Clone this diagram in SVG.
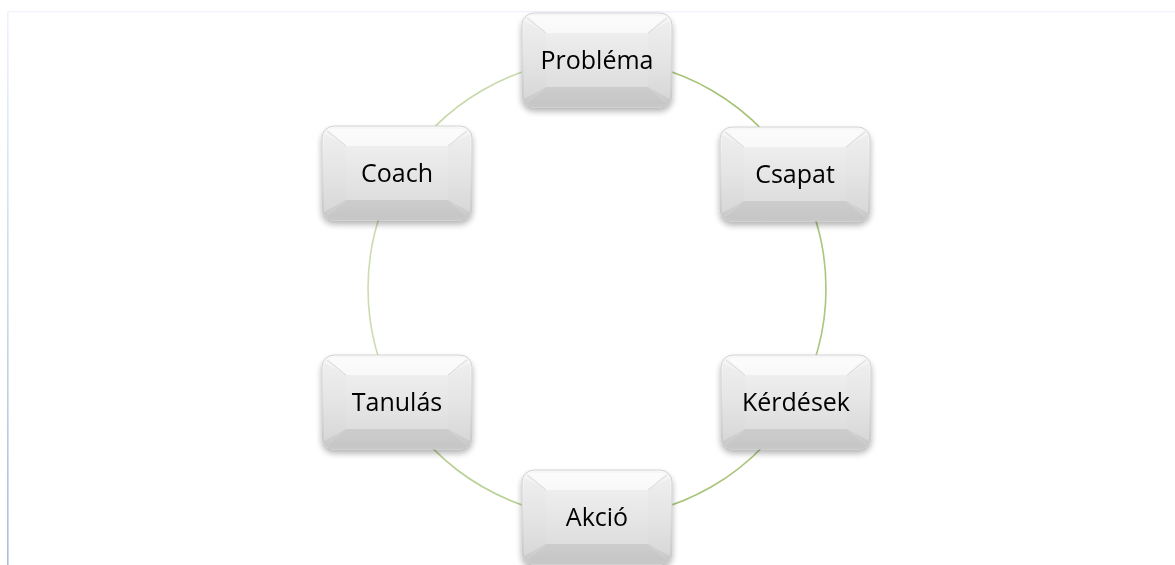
<svg xmlns="http://www.w3.org/2000/svg" width="1175" height="565" viewBox="0 0 1175 565">
<style>
.lbl{font-family:"Open Sans","Liberation Sans",sans-serif;font-size:25px;fill:#000;text-anchor:middle}
.arc{fill:none;stroke-width:1.6}
.outer{fill:url(#gOuter);stroke:#c9c9c9;stroke-width:0.8}
.face{fill:url(#gFace)}
.btop{fill:#ffffff;opacity:0.6}
.bbot{fill:#c4c4c4;opacity:0.35}
.bside{fill:#e6e6e6;opacity:0.45}
.crease{stroke:#d2d2d2;stroke-width:0.8;fill:none}
</style>
<defs>
<linearGradient id="gOuter" x1="0" y1="0" x2="0" y2="1">
<stop offset="0" stop-color="#f8f8f8"/>
<stop offset="0.5" stop-color="#e3e3e3"/>
<stop offset="1" stop-color="#c6c6c6"/>
</linearGradient>
<linearGradient id="gFace" x1="0" y1="0" x2="0" y2="1">
<stop offset="0" stop-color="#eeeeee"/>
<stop offset="1" stop-color="#dedede"/>
</linearGradient>
<linearGradient id="gFrame" gradientUnits="userSpaceOnUse" x1="0" y1="11" x2="0" y2="565">
<stop offset="0" stop-color="#eef3fa"/>
<stop offset="1" stop-color="#a8bfdc"/>
</linearGradient>
<filter id="sh" x="-20%" y="-20%" width="140%" height="150%">
<feGaussianBlur in="SourceAlpha" stdDeviation="3"/>
<feOffset dx="0" dy="4" result="b"/>
<feComponentTransfer><feFuncA type="linear" slope="0.3"/></feComponentTransfer>
<feMerge><feMergeNode/><feMergeNode in="SourceGraphic"/></feMerge>
</filter>
<g id="box">
<rect class="outer" x="0" y="0" width="150" height="94" rx="12"/>
<polygon class="btop" points="6,3 144,3 126,20 24,20"/>
<polygon class="bbot" points="6,91 144,91 126,74 24,74"/>
<polygon class="bside" points="2,8 24,20 24,74 2,86"/>
<polygon class="bside" points="148,8 126,20 126,74 148,86"/>
<rect class="face" x="24" y="20" width="102" height="54"/>
<path class="crease" d="M5,5 L24,20 M145,5 L126,20 M5,89 L24,74 M145,89 L126,74"/>
</g>
</defs>
<rect width="1175" height="565" fill="#ffffff"/>
<g id="frame">
<rect x="7" y="11" width="1.6" height="554" fill="url(#gFrame)"/>
<rect x="7" y="11" width="1168" height="1.4" fill="#f0f4fa"/>
</g>
<g id="connectors">
<path class="arc" stroke="#a6c275" d="M597,59.5 A229,229 0 0 1 795.3,174"/>
<path class="arc" stroke="#abc67e" d="M795.3,174 A229,229 0 0 1 795.3,403"/>
<path class="arc" stroke="#a9c47a" d="M795.3,403 A229,229 0 0 1 597,517.5"/>
<path class="arc" stroke="#b9d093" d="M597,517.5 A229,229 0 0 1 398.7,403"/>
<path class="arc" stroke="#ccdcb0" d="M398.7,403 A229,229 0 0 1 398.7,174"/>
<path class="arc" stroke="#c7d9a9" d="M398.7,174 A229,229 0 0 1 597,59.5"/>
</g>
<g id="node-problema" filter="url(#sh)">
<use href="#box" x="522" y="13"/>
<text class="lbl" x="597" y="69">Probléma</text>
</g>
<g id="node-csapat" filter="url(#sh)">
<use href="#box" x="720" y="127"/>
<text class="lbl" x="795" y="183">Csapat</text>
</g>
<g id="node-kerdesek" filter="url(#sh)">
<use href="#box" x="721" y="355"/>
<text class="lbl" x="796" y="411">Kérdések</text>
</g>
<g id="node-akcio" filter="url(#sh)">
<use href="#box" x="522" y="470"/>
<text class="lbl" x="597" y="526">Akció</text>
</g>
<g id="node-tanulas" filter="url(#sh)">
<use href="#box" x="322" y="355"/>
<text class="lbl" x="397" y="411">Tanulás</text>
</g>
<g id="node-coach" filter="url(#sh)">
<use href="#box" x="322" y="126"/>
<text class="lbl" x="397" y="182">Coach</text>
</g>
</svg>
